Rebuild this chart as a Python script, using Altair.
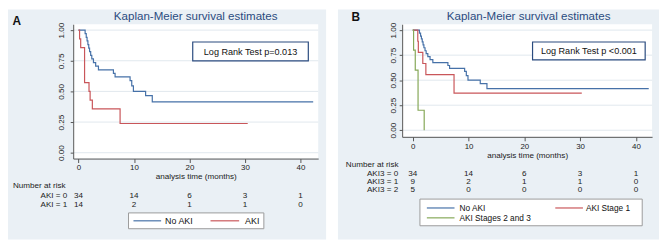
import altair as alt
import pandas as pd

# ---------------- data ----------------
x_ticks = [0, 10, 20, 30, 40]
y_ticks = [0.0, 0.25, 0.5, 0.75, 1.0]
risk_times = [0, 10, 20, 30, 40]

noaki_t = [0, 1.2, 1.4, 1.55, 1.7, 1.85, 2.0, 2.2, 2.4, 2.7, 3.1, 3.6, 6.3, 6.6, 9.3, 9.6, 9.9, 12.1, 13.3, 42.3]
noaki_s = [1.0, 0.971, 0.941, 0.912, 0.882, 0.853, 0.824, 0.794, 0.765, 0.735, 0.706, 0.676, 0.647, 0.618, 0.588, 0.545, 0.50, 0.465, 0.415, 0.415]
aki_t = [0, 0.2, 0.4, 1.1, 1.9, 2.1, 2.5, 7.5, 30.5]
aki_s = [1.0, 0.929, 0.857, 0.571, 0.5, 0.429, 0.357, 0.238, 0.238]
aki1_t = [0, 0.9, 1.0, 1.8, 2.35, 7.4, 30.3]
aki1_s = [1.0, 0.889, 0.778, 0.667, 0.556, 0.370, 0.370]
aki23_t = [0, 0.15, 0.45, 0.95, 2.05]
aki23_s = [1.0, 0.8, 0.6, 0.2, 0.0]

riskA_labels = ["AKI = 0", "AKI = 1"]
riskA_counts = [[34, 14, 6, 3, 1], [14, 2, 1, 1, 0]]
riskB_labels = ["AKI3 = 0", "AKI3 = 1", "AKI3 = 2"]
riskB_counts = [[34, 14, 6, 3, 1], [9, 2, 1, 1, 0], [5, 0, 0, 0, 0]]

title_text = "Kaplan-Meier survival estimates"
x_title = "analysis time (months)"
risk_title = "Number at risk"
logrankA = "Log Rank Test p=0.013"
logrankB = "Log Rank Test p <0.001"

groups = ["No AKI", "AKI", "AKI Stage 1", "AKI Stages 2 and 3"]
group_colors = ["#4671a8", "#c9565a", "#c9565a", "#86a858"]

# ---------------- style ----------------
FONT = "Liberation Sans"
BG = "#eaf0f5"
GRID = "#e1e8ee"
NAVY = "#2a4b7f"
TXT = "#222222"

one = pd.DataFrame({"k": [0]})


def curve_df(name, t, s):
    return pd.DataFrame({"t": t, "s": s, "g": name})


def build_panel(letter, W, H, xdom, ydom, curves, risk_labels, risk_counts,
                logrank, L):
    xs = alt.Scale(domain=xdom, nice=False, zero=False)
    ys = alt.Scale(domain=ydom, nice=False, zero=False)
    xaxis = alt.Axis(values=x_ticks, grid=False, format="d", title=x_title,
                     labelFont=FONT, labelFontSize=8, labelColor=TXT,
                     labelPadding=L["xlp"], tickSize=4, tickColor="#555",
                     domainColor="#555", titleFont=FONT, titleFontSize=8.2,
                     titleFontWeight="normal", titleColor=TXT,
                     titlePadding=L["xtp"], labelFlush=False,
                     labelOverlap=False, zindex=1)
    yaxis = alt.Axis(values=y_ticks, grid=False, format=".2f", title=None,
                     labelFont=FONT, labelFontSize=8.2, labelColor=TXT,
                     labelAngle=270, labelAlign="center",
                     labelBaseline="bottom", labelPadding=L["ylp"],
                     tickSize=3, tickColor="#555", domainColor="#555",
                     labelFlush=False, labelOverlap=False, zindex=1)
    X = alt.X("t:Q", scale=xs, axis=xaxis)
    Y = alt.Y("s:Q", scale=ys, axis=yaxis)

    layers = []
    # panel background
    layers.append(alt.Chart(one).mark_rect(fill=BG).encode(
        x=alt.value(L["bg"][0]), x2=alt.value(L["bg"][1]),
        y=alt.value(-15), y2=alt.value(218)))
    # plot region
    layers.append(alt.Chart(one).mark_rect(fill="white").encode(
        x=alt.value(0), x2=alt.value(W), y=alt.value(0), y2=alt.value(H)))
    # grid lines
    layers.append(alt.Chart(pd.DataFrame({"s": y_ticks})).mark_rule(
        color=GRID, strokeWidth=1).encode(
        y=Y, x=alt.value(0), x2=alt.value(W)))
    # curves
    layers.append(alt.Chart(curves).mark_line(
        interpolate="step-after", strokeWidth=1.2).encode(
        x=X, y=Y,
        color=alt.Color("g:N", scale=alt.Scale(domain=groups, range=group_colors),
                        legend=None),
        detail="g:N"))
    # log rank box
    bx = L["box"]
    layers.append(alt.Chart(one).mark_rect(
        fill="white", stroke=NAVY, strokeWidth=1.2).encode(
        x=alt.value(bx[0]), x2=alt.value(bx[1]),
        y=alt.value(bx[2]), y2=alt.value(bx[3])))
    layers.append(alt.Chart(one).mark_text(
        font=FONT, fontSize=9.2, color="#111", align="center",
        baseline="middle").encode(
        x=alt.value((bx[0] + bx[1]) / 2), y=alt.value((bx[2] + bx[3]) / 2 + 0.5),
        text=alt.value(logrank)))
    # title and panel letter
    layers.append(alt.Chart(one).mark_text(
        font=FONT, fontSize=11.7, color=NAVY, align="center",
        baseline="middle").encode(
        x=alt.value(L["title_x"]), y=alt.value(-8), text=alt.value(title_text)))
    layers.append(alt.Chart(one).mark_text(
        font=FONT, fontSize=12, fontWeight="bold", color="#111",
        align="center", baseline="middle").encode(
        x=alt.value(L["letter"][0]), y=alt.value(L["letter"][1]),
        text=alt.value(letter)))
    # number at risk
    layers.append(alt.Chart(one).mark_text(
        font=FONT, fontSize=8.2, color=TXT, align="left",
        baseline="middle").encode(
        x=alt.value(L["nar"][0]), y=alt.value(L["nar"][1]),
        text=alt.value(risk_title)))
    for lab, counts, ry in zip(risk_labels, risk_counts, L["rows"]):
        layers.append(alt.Chart(one).mark_text(
            font=FONT, fontSize=8.2, color=TXT, align="right",
            baseline="middle").encode(
            x=alt.value(L["row_x"]), y=alt.value(ry), text=alt.value(lab)))
        layers.append(alt.Chart(pd.DataFrame({"t": risk_times, "n": counts})).mark_text(
            font=FONT, fontSize=8.2, color=TXT, align="center",
            baseline="middle").encode(
            x=X, y=alt.value(ry), text="n:Q"))
    # legend
    lb = L["leg"]
    layers.append(alt.Chart(one).mark_rect(
        fill="white", stroke="#9a9a9a", strokeWidth=1).encode(
        x=alt.value(lb[0]), x2=alt.value(lb[1]),
        y=alt.value(lb[2]), y2=alt.value(lb[3])))
    for (x0, x1, ly, tx, name) in L["entries"]:
        col = group_colors[groups.index(name)]
        layers.append(alt.Chart(one).mark_rule(color=col, strokeWidth=1.2).encode(
            x=alt.value(x0), x2=alt.value(x1), y=alt.value(ly)))
        layers.append(alt.Chart(one).mark_text(
            font=FONT, fontSize=L["legfs"], color="#111", align="left",
            baseline="middle").encode(
            x=alt.value(tx), y=alt.value(ly), text=alt.value(name)))

    return alt.layer(*layers).properties(width=W, height=H)


curvesA = pd.concat([curve_df("No AKI", noaki_t, noaki_s),
                     curve_df("AKI", aki_t, aki_s)], ignore_index=True)
curvesB = pd.concat([curve_df("No AKI", noaki_t, noaki_s),
                     curve_df("AKI Stage 1", aki1_t, aki1_s),
                     curve_df("AKI Stages 2 and 3", aki23_t, aki23_s)],
                    ignore_index=True)

LA = {"bg": (-66, 256), "box": (121, 238, 18, 37), "title_x": 124,
      "letter": (-57, -3), "nar": (-61, 164), "rows": [174, 183], "row_x": -6,
      "leg": (56, 193, 191, 207), "legfs": 9,
      "entries": [(61, 89, 199, 93, "No AKI"), (139, 168, 199, 174, "AKI")],
      "xlp": 1, "xtp": 1, "ylp": 5}
LB = {"bg": (-65, 260), "box": (132, 246, 18, 36), "title_x": 128,
      "letter": (-47, -7), "nar": (-57, 143), "rows": [152, 160, 168], "row_x": -4,
      "leg": (18, 243, 177, 204), "legfs": 8.4,
      "entries": [(25, 53, 186, 58, "No AKI"), (155, 183, 186, 186, "AKI Stage 1"),
                  (25, 53, 196, 58, "AKI Stages 2 and 3")],
      "xlp": 2, "xtp": 1, "ylp": 2}

panelA = build_panel("A", 248, 136, [-0.95, 43.2], [-0.048, 1.048], curvesA,
                     riskA_labels, riskA_counts, logrankA, LA)
panelB = build_panel("B", 253, 114, [-1.9, 42.9], [-0.066, 1.059], curvesB,
                     riskB_labels, riskB_counts, logrankB, LB)

chart = alt.hconcat(panelA, panelB, spacing=85, bounds="flush").properties(
    padding=0, background="white"
).configure_view(strokeWidth=0)

chart.save("out.html", embed_options={"renderer": "svg", "actions": False})
